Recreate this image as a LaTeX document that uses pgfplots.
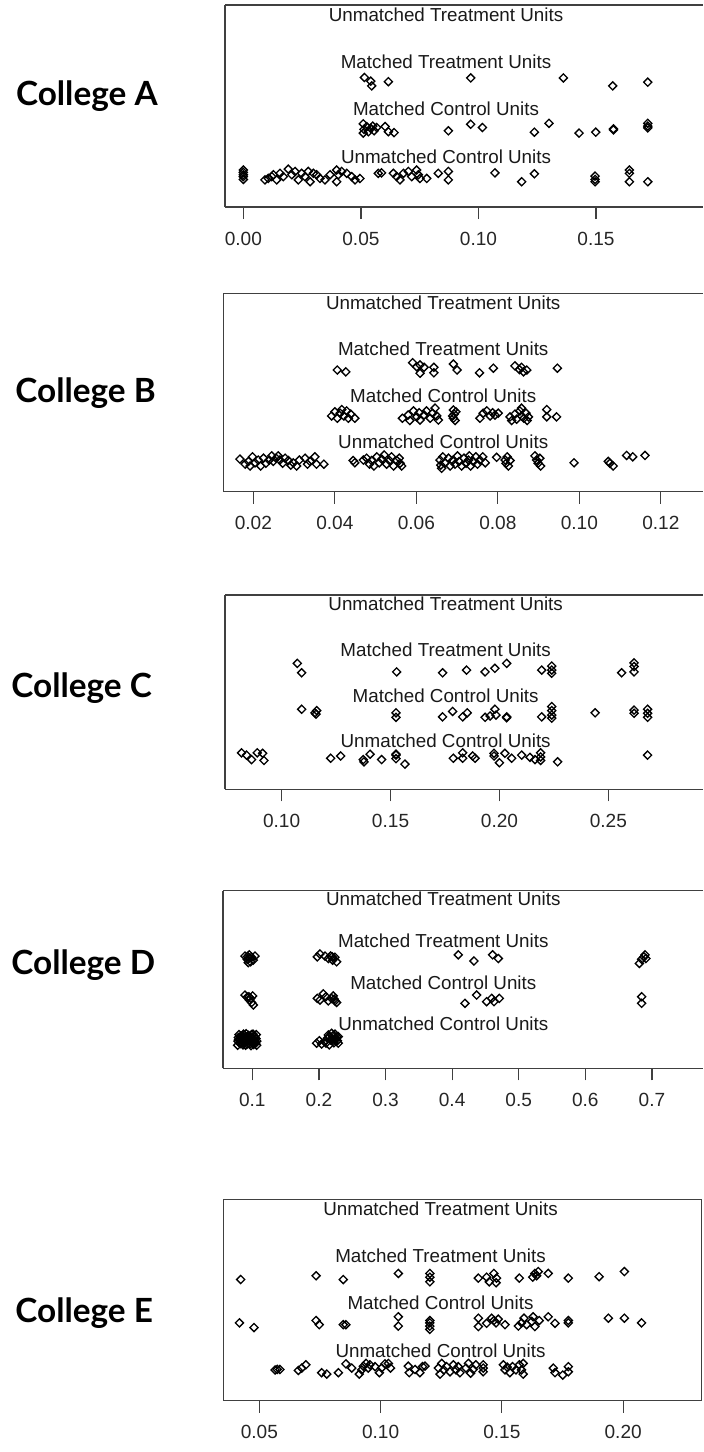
\documentclass[border=0pt]{standalone}
\usepackage{pgfplots}
\pgfplotsset{compat=1.18}
\usepackage{fontspec}
\setmainfont{Liberation Sans}
\newfontfamily\labfont{Lato}
\pgfplotsset{
  jit/.style={
    scale only axis, anchor=north west, clip=false,
    ymin=-0.16, ymax=4.16, ytick=\empty,
    xtick pos=left, tick align=outside, major tick length=9pt,
    axis line style={line width=0.9pt, black!75, -},
    every tick/.style={line width=0.9pt, black!75},
    xticklabel style={font=\fontsize{14.3pt}{16pt}\selectfont, text=black!85, inner sep=0pt, anchor=north, yshift=-9.5pt},
    every axis plot post/.append style={only marks, black, mark=square, mark size=2.15pt,
      mark options={rotate=45, line width=1pt, solid, draw=black, fill=none}},
  },
  openright/.style={axis x line=box, axis y line=left, y axis line style={-}, x axis line style={-}},
}
\tikzset{rowtext/.style={font=\fontsize{14.1pt}{16pt}\selectfont, text=black!90, inner sep=0pt},
  coll/.style={anchor=base west, font=\labfont\bfseries\fontsize{25pt}{28pt}\selectfont}}
\begin{document}
\begin{tikzpicture}
\useasboundingbox (0,0) rectangle (527.25pt,-1089pt);
% ---------------- College A ----------------
\node[coll] at (8.5pt,-79.3pt) {College A};
\begin{axis}[jit, openright, at={(168.75pt,-3.75pt)}, width=358.5pt, height=151.5pt,
  xmin=-0.0078, xmax=0.1955, xtick={0,0.05,0.1,0.15}, xticklabels={0.00,0.05,0.10,0.15}]
\node[rowtext] at (axis cs:0.0862,3.96) {Unmatched Treatment Units};
\node[rowtext] at (axis cs:0.0862,2.95) {Matched Treatment Units};
\node[rowtext] at (axis cs:0.0862,1.93) {Matched Control Units};
\node[rowtext] at (axis cs:0.0862,0.92) {Unmatched Control Units};
\addplot coordinates {(0.0515,2.61)(0.0542,2.53)(0.0546,2.43)(0.0617,2.52)(0.0967,2.60)(0.1361,2.60)(0.1571,2.43)(0.1720,2.51)};
\addplot coordinates {(0.0510,1.62)(0.0513,1.50)(0.0510,1.42)(0.0525,1.56)(0.0532,1.45)(0.0542,1.52)(0.0550,1.57)(0.0556,1.47)(0.0567,1.54)(0.0603,1.56)(0.0617,1.45)(0.0641,1.43)(0.0872,1.47)(0.0967,1.61)(0.1017,1.54)(0.1238,1.44)(0.1300,1.63)(0.1428,1.42)(0.1499,1.44)(0.1574,1.49)(0.1574,1.51)(0.1720,1.63)(0.1720,1.57)(0.1720,1.53)};
\addplot coordinates {(0,0.63)(0,0.58)(0,0.53)(0,0.49)(0,0.43)
(0.0092,0.42)(0.0106,0.45)(0.0121,0.49)(0.0128,0.53)(0.0142,0.42)(0.0156,0.56)(0.0170,0.49)(0.0191,0.65)(0.0206,0.53)(0.0220,0.60)(0.0234,0.42)(0.0248,0.56)(0.0262,0.49)(0.0276,0.60)(0.0284,0.38)(0.0298,0.56)(0.0312,0.53)(0.0326,0.45)(0.0347,0.42)(0.0369,0.53)(0.0397,0.63)(0.0404,0.53)(0.0397,0.38)(0.0418,0.60)(0.0440,0.56)(0.0461,0.49)(0.0475,0.42)(0.0496,0.45)
(0.0574,0.56)(0.0588,0.57)(0.0638,0.56)(0.0652,0.49)(0.0666,0.42)(0.0681,0.56)(0.0702,0.60)(0.0716,0.49)(0.0737,0.63)(0.0744,0.53)(0.0751,0.45)(0.0780,0.45)(0.0829,0.56)(0.0872,0.60)(0.0872,0.42)
(0.1070,0.57)(0.1184,0.38)(0.1238,0.55)(0.1496,0.50)(0.1496,0.43)(0.1496,0.38)(0.1642,0.63)(0.1642,0.56)(0.1642,0.38)(0.1720,0.38)};
\end{axis}
% ---------------- College B ----------------
\node[coll] at (8pt,-301.5pt) {College B};
\begin{axis}[jit, openright, at={(167.5pt,-220pt)}, width=359.8pt, height=148.8pt,
  xmin=0.01264, xmax=0.13036, xtick={0.02,0.04,0.06,0.08,0.10,0.12}, xticklabels={0.02,0.04,0.06,0.08,0.10,0.12}]
\node[rowtext] at (axis cs:0.0666,3.96) {Unmatched Treatment Units};
\node[rowtext] at (axis cs:0.0666,2.95) {Matched Treatment Units};
\node[rowtext] at (axis cs:0.0666,1.93) {Matched Control Units};
\node[rowtext] at (axis cs:0.0666,0.92) {Unmatched Control Units};
\addplot coordinates {(0.0406,2.49)(0.0427,2.45)(0.0591,2.65)(0.0601,2.56)(0.0609,2.60)(0.0609,2.42)(0.0619,2.55)(0.0643,2.55)(0.0643,2.43)(0.0691,2.62)(0.0700,2.49)(0.0755,2.43)(0.0789,2.53)(0.0842,2.58)(0.0853,2.50)(0.0858,2.55)(0.0863,2.45)(0.0871,2.49)(0.0946,2.53)};
\addplot coordinates {(0.0392,1.49)(0.0400,1.58)(0.0406,1.44)(0.0413,1.55)(0.0417,1.63)(0.0422,1.49)(0.0429,1.60)(0.0433,1.44)(0.0439,1.53)(0.0449,1.44)
(0.0566,1.44)(0.0580,1.51)(0.0584,1.39)(0.0593,1.60)(0.0601,1.47)(0.0607,1.56)(0.0609,1.40)(0.0619,1.51)(0.0625,1.60)(0.0634,1.44)(0.0640,1.55)(0.0646,1.66)(0.0650,1.49)(0.0654,1.40)
(0.0691,1.62)(0.0693,1.53)(0.0691,1.44)(0.0695,1.39)(0.0697,1.58)(0.0689,1.49)
(0.0756,1.44)(0.0764,1.55)(0.0773,1.60)(0.0781,1.49)(0.0787,1.56)(0.0793,1.51)(0.0801,1.55)
(0.0830,1.47)(0.0834,1.39)(0.0842,1.53)(0.0846,1.42)(0.0854,1.60)(0.0858,1.66)(0.0858,1.49)(0.0864,1.44)(0.0869,1.55)(0.0872,1.39)(0.0875,1.47)
(0.0920,1.63)(0.0920,1.47)(0.0944,1.47)};
\addplot coordinates {(0.0167,0.55)(0.0180,0.44)(0.0188,0.50)(0.0192,0.40)(0.0198,0.60)(0.0204,0.47)(0.0212,0.53)(0.0218,0.40)(0.0225,0.57)(0.0231,0.46)(0.0239,0.53)(0.0245,0.62)(0.0249,0.50)(0.0256,0.57)(0.0261,0.62)(0.0265,0.53)(0.0272,0.46)(0.0278,0.57)(0.0286,0.52)(0.0292,0.42)(0.0298,0.47)(0.0306,0.40)(0.0313,0.53)(0.0327,0.57)(0.0333,0.44)(0.0339,0.50)(0.0351,0.60)(0.0355,0.44)(0.0373,0.44)
(0.0445,0.52)(0.0449,0.47)(0.0470,0.53)(0.0478,0.57)(0.0485,0.44)(0.0490,0.52)(0.0496,0.40)(0.0503,0.60)(0.0509,0.47)(0.0515,0.55)(0.0521,0.64)(0.0527,0.44)(0.0534,0.52)(0.0539,0.60)(0.0544,0.40)(0.0552,0.52)(0.0558,0.57)(0.0560,0.46)(0.0564,0.40)
(0.0658,0.53)(0.0660,0.42)(0.0662,0.35)(0.0665,0.60)(0.0670,0.47)(0.0679,0.57)(0.0683,0.40)(0.0689,0.52)(0.0695,0.44)(0.0701,0.62)(0.0705,0.50)(0.0711,0.40)(0.0717,0.57)(0.0722,0.46)(0.0728,0.53)(0.0730,0.62)(0.0733,0.40)(0.0740,0.50)(0.0746,0.60)(0.0750,0.44)(0.0756,0.53)(0.0763,0.60)(0.0769,0.47)
(0.0797,0.59)(0.0818,0.53)(0.0820,0.46)(0.0823,0.60)(0.0826,0.40)(0.0830,0.52)
(0.0891,0.62)(0.0895,0.53)(0.0899,0.46)(0.0903,0.57)(0.0905,0.40)
(0.0987,0.47)(0.1071,0.50)(0.1075,0.46)(0.1083,0.40)(0.1116,0.63)(0.1131,0.60)(0.1161,0.63)};
\end{axis}
% ---------------- College C ----------------
\node[coll] at (5pt,-522.75pt) {College C};
\begin{axis}[jit, openright, at={(168.75pt,-446.25pt)}, width=358.5pt, height=145.7pt,
  xmin=0.0740, xmax=0.29344, xtick={0.10,0.15,0.20,0.25}, xticklabels={0.10,0.15,0.20,0.25}]
\node[rowtext] at (axis cs:0.1753,3.96) {Unmatched Treatment Units};
\node[rowtext] at (axis cs:0.1753,2.95) {Matched Treatment Units};
\node[rowtext] at (axis cs:0.1753,1.93) {Matched Control Units};
\node[rowtext] at (axis cs:0.1753,0.92) {Unmatched Control Units};
\addplot coordinates {(0.1072,2.64)(0.1092,2.43)(0.1528,2.45)(0.1739,2.43)(0.1849,2.49)(0.1934,2.45)(0.1979,2.53)(0.2033,2.64)(0.2194,2.49)(0.2240,2.58)(0.2240,2.49)(0.2240,2.42)(0.2561,2.43)(0.2618,2.65)(0.2618,2.57)(0.2618,2.45)};
\addplot coordinates {(0.1092,1.62)(0.1153,1.54)(0.1161,1.59)(0.1158,1.51)(0.1525,1.54)(0.1525,1.44)(0.1739,1.45)(0.1785,1.57)(0.1831,1.45)(0.1852,1.54)(0.1934,1.44)(0.1957,1.47)(0.1979,1.62)(0.1984,1.49)(0.2033,1.45)(0.2033,1.43)(0.2194,1.45)(0.2240,1.68)(0.2240,1.59)(0.2240,1.49)(0.2240,1.42)(0.2439,1.54)(0.2618,1.60)(0.2618,1.53)(0.2680,1.62)(0.2680,1.53)(0.2680,1.44)};
\addplot coordinates {(0.0816,0.65)(0.0839,0.60)(0.0862,0.50)(0.0888,0.65)(0.0913,0.64)(0.0919,0.48)(0.1225,0.53)(0.1271,0.58)(0.1375,0.50)(0.1378,0.45)(0.1406,0.62)(0.1459,0.50)(0.1525,0.62)(0.1525,0.60)(0.1525,0.52)(0.1566,0.40)(0.1788,0.53)(0.1831,0.65)(0.1831,0.53)(0.1877,0.58)(0.1888,0.53)(0.1975,0.64)(0.1975,0.58)(0.2000,0.43)(0.2025,0.64)(0.2056,0.53)(0.2102,0.60)(0.2140,0.55)(0.2163,0.50)(0.2189,0.65)(0.2189,0.56)(0.2189,0.48)(0.2267,0.45)(0.2680,0.60)};
\end{axis}
% ---------------- College D ----------------
\node[coll] at (5pt,-730.5pt) {College D};
\begin{axis}[jit, openright, at={(167.25pt,-668pt)}, width=360pt, height=133.2pt,
  xmin=0.056, xmax=0.77673, xtick={0.1,0.2,0.3,0.4,0.5,0.6,0.7}, xticklabels={0.1,0.2,0.3,0.4,0.5,0.6,0.7}]
\node[rowtext] at (axis cs:0.3868,3.96) {Unmatched Treatment Units};
\node[rowtext] at (axis cs:0.3868,2.95) {Matched Treatment Units};
\node[rowtext] at (axis cs:0.3868,1.93) {Matched Control Units};
\node[rowtext] at (axis cs:0.3868,0.92) {Unmatched Control Units};
\addplot coordinates {(0.0890,2.57)(0.0925,2.49)(0.0955,2.60)(0.0975,2.43)(0.0990,2.54)(0.1015,2.47)(0.0940,2.41)(0.1040,2.57)(0.0960,2.52)(0.0930,2.56)
(0.1976,2.55)(0.2016,2.62)(0.2091,2.57)(0.2141,2.51)(0.2176,2.57)(0.2206,2.47)(0.2241,2.54)(0.2266,2.43)(0.2200,2.55)
(0.4093,2.60)(0.4328,2.45)(0.4609,2.60)(0.4694,2.51)
(0.6811,2.39)(0.6846,2.49)(0.6881,2.55)(0.6911,2.51)(0.6896,2.60)};
\addplot coordinates {(0.0890,1.62)(0.0925,1.57)(0.0955,1.50)(0.0990,1.44)(0.1015,1.38)(0.0975,1.54)(0.1005,1.60)(0.0950,1.58)
(0.1976,1.54)(0.2016,1.50)(0.2066,1.65)(0.2106,1.58)(0.2141,1.48)(0.2191,1.54)(0.2241,1.48)(0.2266,1.44)(0.2216,1.60)(0.2230,1.52)
(0.4193,1.42)(0.4368,1.62)(0.4518,1.46)(0.4594,1.54)(0.4629,1.46)(0.4709,1.54)
(0.6846,1.58)(0.6846,1.42)};
\addplot coordinates {(0.0780,0.40)(0.0785,0.50)(0.0790,0.59)(0.0800,0.66)(0.0820,0.44)(0.0825,0.55)(0.0830,0.63)(0.0860,0.41)(0.0865,0.49)(0.0870,0.58)(0.0868,0.67)(0.0900,0.40)(0.0905,0.52)(0.0902,0.61)(0.0908,0.68)(0.0940,0.45)(0.0945,0.54)(0.0942,0.64)(0.0980,0.39)(0.0985,0.48)(0.0982,0.58)(0.0988,0.66)(0.1020,0.42)(0.1025,0.53)(0.1022,0.62)(0.1050,0.45)(0.1055,0.56)(0.1060,0.66)(0.1065,0.40)(0.1068,0.50)
(0.0805,0.46)(0.0812,0.53)(0.0845,0.45)(0.0850,0.60)(0.0885,0.46)(0.0890,0.56)(0.0922,0.43)(0.0925,0.58)(0.0960,0.50)(0.0962,0.61)(0.1000,0.45)(0.1005,0.56)(0.1040,0.49)(0.1038,0.60)(0.0795,0.54)(0.0880,0.64)(0.0965,0.43)(0.1010,0.67)
(0.1966,0.45)(0.2006,0.51)(0.2041,0.43)(0.2091,0.49)(0.2126,0.57)(0.2156,0.41)(0.2176,0.53)(0.2206,0.62)(0.2226,0.46)(0.2256,0.57)(0.2276,0.51)(0.2291,0.61)(0.2241,0.67)(0.2191,0.69)(0.2141,0.65)(0.2106,0.45)(0.2291,0.45)(0.2200,0.55)(0.2240,0.52)(0.2270,0.60)(0.2160,0.60)};
\end{axis}
% ---------------- College E ----------------
\node[coll] at (8pt,-991.5pt) {College E};
\begin{axis}[jit, at={(167.5pt,-899.5pt)}, width=358.8pt, height=151pt,
  xmin=0.03516, xmax=0.2324, xtick={0.05,0.10,0.15,0.20}, xticklabels={0.05,0.10,0.15,0.20}]
\node[rowtext] at (axis cs:0.1247,3.96) {Unmatched Treatment Units};
\node[rowtext] at (axis cs:0.1247,2.95) {Matched Treatment Units};
\node[rowtext] at (axis cs:0.1247,1.93) {Matched Control Units};
\node[rowtext] at (axis cs:0.1247,0.92) {Unmatched Control Units};
\addplot coordinates {(0.0423,2.44)(0.0734,2.52)(0.0846,2.44)(0.1073,2.57)(0.1203,2.57)(0.1203,2.49)(0.1203,2.39)(0.1403,2.47)(0.1437,2.49)(0.1448,2.39)(0.1467,2.57)(0.1478,2.47)(0.1476,2.37)(0.1572,2.47)(0.1627,2.49)(0.1636,2.57)(0.1643,2.52)(0.1650,2.61)(0.1691,2.57)(0.1774,2.47)(0.1901,2.50)(0.2005,2.61)};
\addplot coordinates {(0.0418,1.51)(0.0478,1.41)(0.0734,1.56)(0.0747,1.47)(0.0846,1.47)(0.0857,1.47)(0.1073,1.64)(0.1073,1.44)(0.1203,1.56)(0.1203,1.51)(0.1203,1.44)(0.1203,1.37)(0.1403,1.61)(0.1403,1.43)(0.1437,1.50)(0.1458,1.61)(0.1467,1.56)(0.1476,1.51)(0.1485,1.59)(0.1513,1.47)(0.1568,1.44)(0.1581,1.51)(0.1591,1.61)(0.1602,1.47)(0.1623,1.54)(0.1629,1.64)(0.1636,1.43)(0.1654,1.56)(0.1691,1.64)(0.1719,1.50)(0.1774,1.51)(0.1774,1.56)(0.1939,1.61)(0.2005,1.61)(0.2076,1.51)};
\addplot coordinates {(0.0565,0.50)(0.0574,0.51)(0.0585,0.51)(0.0661,0.49)(0.0675,0.54)(0.0692,0.61)(0.0757,0.44)(0.0778,0.41)(0.0826,0.44)(0.0857,0.63)(0.0881,0.54)
(0.0912,0.41)(0.0922,0.50)(0.0929,0.58)(0.0940,0.64)(0.0949,0.54)(0.0956,0.61)(0.0977,0.57)(0.0995,0.44)(0.1004,0.54)(0.1018,0.63)(0.1032,0.64)(0.1041,0.54)
(0.1114,0.58)(0.1118,0.44)(0.1142,0.51)(0.1162,0.44)(0.1173,0.57)(0.1183,0.58)
(0.1238,0.54)(0.1245,0.41)(0.1252,0.64)(0.1261,0.50)(0.1272,0.57)(0.1286,0.46)(0.1300,0.61)(0.1311,0.50)(0.1320,0.57)(0.1327,0.44)(0.1352,0.54)(0.1362,0.64)(0.1371,0.43)(0.1382,0.51)(0.1393,0.61)(0.1423,0.46)(0.1423,0.61)(0.1423,0.54)
(0.1506,0.61)(0.1513,0.50)(0.1522,0.56)(0.1533,0.44)(0.1544,0.57)(0.1558,0.50)(0.1572,0.61)(0.1581,0.50)(0.1588,0.64)(0.1588,0.41)
(0.1712,0.54)(0.1719,0.44)(0.1751,0.39)(0.1774,0.57)(0.1774,0.46)};
\end{axis}
\end{tikzpicture}
\end{document}
